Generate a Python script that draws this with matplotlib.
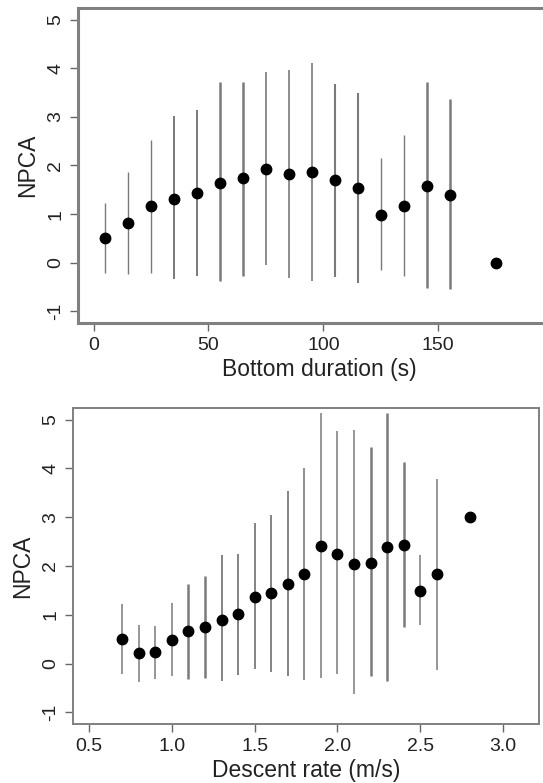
import numpy as np
import matplotlib as mpl; mpl.use('Agg'); import matplotlib.pyplot as plt
mpl.rcParams.update({'font.family':'sans-serif','font.sans-serif':['Liberation Sans','DejaVu Sans']})

# bottom duration panel
dur_x=[5,15,25,35,45,55,65,75,85,95,105,115,125,135,145,155,175]
dur_mean=[0.51,0.81,1.17,1.32,1.43,1.64,1.74,1.93,1.82,1.86,1.71,1.54,0.99,1.17,1.58,1.39,0.0]
dur_hi=[1.23,1.86,2.52,3.02,3.15,3.72,3.72,3.92,3.96,4.11,3.67,3.49,2.16,2.63,3.72,3.36,np.nan]
dur_lo=[-0.22,-0.23,-0.21,-0.34,-0.27,-0.38,-0.27,-0.04,-0.31,-0.38,-0.30,-0.42,-0.14,-0.27,-0.53,-0.55,np.nan]
# descent rate panel
des_x=[0.7,0.8,0.9,1.0,1.1,1.2,1.3,1.4,1.5,1.6,1.7,1.8,1.9,2.0,2.1,2.2,2.3,2.4,2.5,2.6,2.8]
des_mean=[0.50,0.21,0.24,0.48,0.67,0.75,0.90,1.01,1.36,1.45,1.63,1.84,2.40,2.25,2.05,2.07,2.38,2.43,1.49,1.84,3.01]
des_hi=[1.22,0.80,0.77,1.24,1.63,1.79,2.23,2.24,2.88,3.05,3.53,4.01,5.14,4.77,4.79,4.45,5.14,4.14,2.22,3.79,np.nan]
des_lo=[-0.21,-0.38,-0.32,-0.26,-0.32,-0.29,-0.36,-0.23,-0.12,-0.18,-0.25,-0.34,-0.29,-0.21,-0.63,-0.26,-0.36,0.75,0.79,-0.13,np.nan]

# whisker widths (style only)
lw_top=[1.0,1.0,1.0,1.4,1.4,1.8,1.8,1.2,1.2,1.2,1.5,1.5,1.0,1.0,1.8,1.8,1.0]
lw_bot=[1.1,1.1,1.1,1.1,1.8,1.8,1.3,1.3,1.3,1.3,1.3,1.2,1.1,1.1,1.1,1.8,1.8,1.8,1.1,1.1,1.0]

W,H=543,783
fig=plt.figure(figsize=(W/100,H/100),dpi=100)
ax1=fig.add_axes([78/W,1-323/H,(560-78)/W,(323-8)/H])
ax2=fig.add_axes([73/W,1-724/H,(539-73)/W,(724-408)/H])

def panel(ax,x,m,lo,hi,lws,xlim,xticks,xtl,xlabel,spw):
    for xi,l,h,w in zip(x,lo,hi,lws):
        if not np.isnan(l):
            ax.plot([xi,xi],[l,h],color='#7a7a7a',lw=w,solid_capstyle='butt',zorder=2)
    ax.plot(x,m,'o',color='black',ms=7.5,zorder=3)
    ax.set_xlim(*xlim); ax.set_ylim(-1.24,5.24)
    ax.set_xticks(xticks); ax.set_xticklabels(xtl)
    ax.set_yticks(range(-1,6))
    ax.set_yticklabels([str(v) for v in range(-1,6)],rotation=90,va='center')
    ax.tick_params(axis='both',labelsize=14,length=6,width=1,color='#666666',pad=4,labelcolor='#222222')
    ax.set_xlabel(xlabel,fontsize=16.5,color='#222222',labelpad=3)
    ax.set_ylabel('NPCA',fontsize=16.5,color='#222222',labelpad=6)
    for s in ax.spines.values():
        s.set_color('#808080'); s.set_linewidth(spw)

panel(ax1,dur_x,dur_mean,dur_lo,dur_hi,lw_top,(-6.8,203),[0,50,100,150],['0','50','100','150'],'Bottom duration (s)',2.2)
panel(ax2,des_x,des_mean,des_lo,des_hi,lw_bot,(0.403,3.217),[0.5,1.0,1.5,2.0,2.5,3.0],['0.5','1.0','1.5','2.0','2.5','3.0'],'Descent rate (m/s)',1.4)

fig.savefig('out.png',dpi=100)
